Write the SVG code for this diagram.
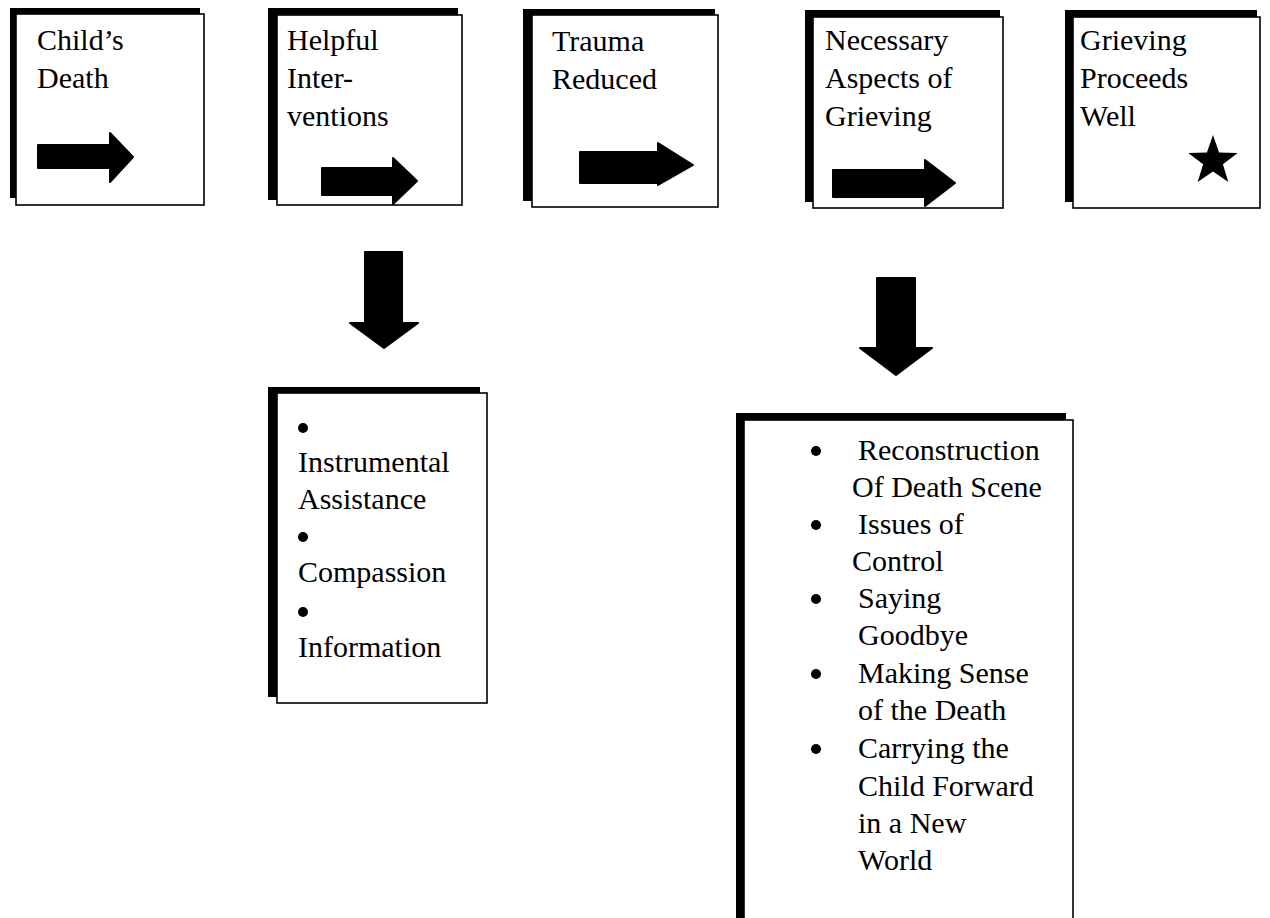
<svg xmlns="http://www.w3.org/2000/svg" width="1270" height="918" viewBox="0 0 1270 918">
<style>
.sh{fill:#000}
.bx{fill:#fff;stroke:#000;stroke-width:1.6}
.t{font-family:"Liberation Serif","Times New Roman",serif;font-size:30px;fill:#000}
.ar{fill:#000;stroke:#000;stroke-width:2;stroke-linejoin:round}
</style>
<rect width="1270" height="918" fill="#fff"/>
<g id="node-childs-death">
<rect class="sh" x="10" y="8" width="190" height="190"/>
<rect class="bx" x="16" y="14" width="188" height="191"/>
<text class="t" x="37" y="50">Child’s</text>
<text class="t" x="37" y="88">Death</text>
</g>
<g id="node-helpful-interventions">
<rect class="sh" x="268" y="8" width="190" height="192"/>
<rect class="bx" x="277" y="15" width="185" height="190"/>
<text class="t" x="287" y="50">Helpful</text>
<text class="t" x="287" y="88">Inter-</text>
<text class="t" x="287" y="126">ventions</text>
</g>
<g id="node-trauma-reduced">
<rect class="sh" x="523" y="9" width="192" height="192"/>
<rect class="bx" x="532" y="15" width="186" height="192"/>
<text class="t" x="552" y="51">Trauma</text>
<text class="t" x="552" y="89">Reduced</text>
</g>
<g id="node-necessary-aspects">
<rect class="sh" x="805" y="10" width="195" height="192"/>
<rect class="bx" x="813" y="17" width="190" height="191"/>
<text class="t" x="825" y="50">Necessary</text>
<text class="t" x="825" y="88">Aspects of</text>
<text class="t" x="825" y="126">Grieving</text>
</g>
<g id="node-grieving-proceeds">
<rect class="sh" x="1065" y="10" width="192" height="192"/>
<rect class="bx" x="1073" y="17" width="187" height="191"/>
<text class="t" x="1080" y="50">Grieving</text>
<text class="t" x="1080" y="88">Proceeds</text>
<text class="t" x="1080" y="126">Well</text>
<polygon class="sh" points="1213,135 1219.1,152.6 1237.7,153 1222.9,164.2 1228.3,182 1213,171.4 1197.7,182 1203.1,164.2 1188.3,153 1206.9,152.6"/>
</g>
<g id="node-interventions-list">
<rect class="sh" x="268" y="387" width="212" height="310"/>
<rect class="bx" x="277" y="393" width="210" height="310"/>
<circle cx="303" cy="428" r="5"/>
<text class="t" x="298" y="472">Instrumental</text>
<text class="t" x="298" y="509">Assistance</text>
<circle cx="303" cy="537" r="5"/>
<text class="t" x="298" y="582">Compassion</text>
<circle cx="303" cy="612" r="5"/>
<text class="t" x="298" y="657">Information</text>
</g>
<g id="node-grieving-aspects-list">
<rect class="sh" x="736" y="413" width="330" height="520"/>
<rect class="bx" x="744" y="420" width="329" height="520"/>
<circle cx="816" cy="451" r="5"/>
<text class="t" x="858" y="460">Reconstruction</text>
<text class="t" x="852" y="497">Of Death Scene</text>
<circle cx="816" cy="525" r="5"/>
<text class="t" x="858" y="534">Issues of</text>
<text class="t" x="852" y="571">Control</text>
<circle cx="816" cy="599" r="5"/>
<text class="t" x="858" y="608">Saying</text>
<text class="t" x="858" y="645">Goodbye</text>
<circle cx="816" cy="674" r="5"/>
<text class="t" x="858" y="683">Making Sense</text>
<text class="t" x="858" y="720">of the Death</text>
<circle cx="816" cy="749" r="5"/>
<text class="t" x="858" y="758">Carrying the</text>
<text class="t" x="858" y="796">Child Forward</text>
<text class="t" x="858" y="833">in a New</text>
<text class="t" x="858" y="870">World</text>
</g>
<g id="connectors">
<polygon class="ar" points="38,145 110,145 110,133 133,157 110,182 110,168 38,168"/>
<polygon class="ar" points="322,168 393,168 393,158 417,181 393,204 393,195 322,195"/>
<polygon class="ar" points="580,152 658,152 658,143 693,165 658,185 658,183 580,183"/>
<polygon class="ar" points="833,170 925,170 925,160 955,183 925,206 925,197 833,197"/>
<polygon class="ar" points="365,252 402,252 402,323 418,323 384,348 350,323 365,323"/>
<polygon class="ar" points="877,278 915,278 915,348 932,348 896,375 860,348 877,348"/>
</g>
</svg>
